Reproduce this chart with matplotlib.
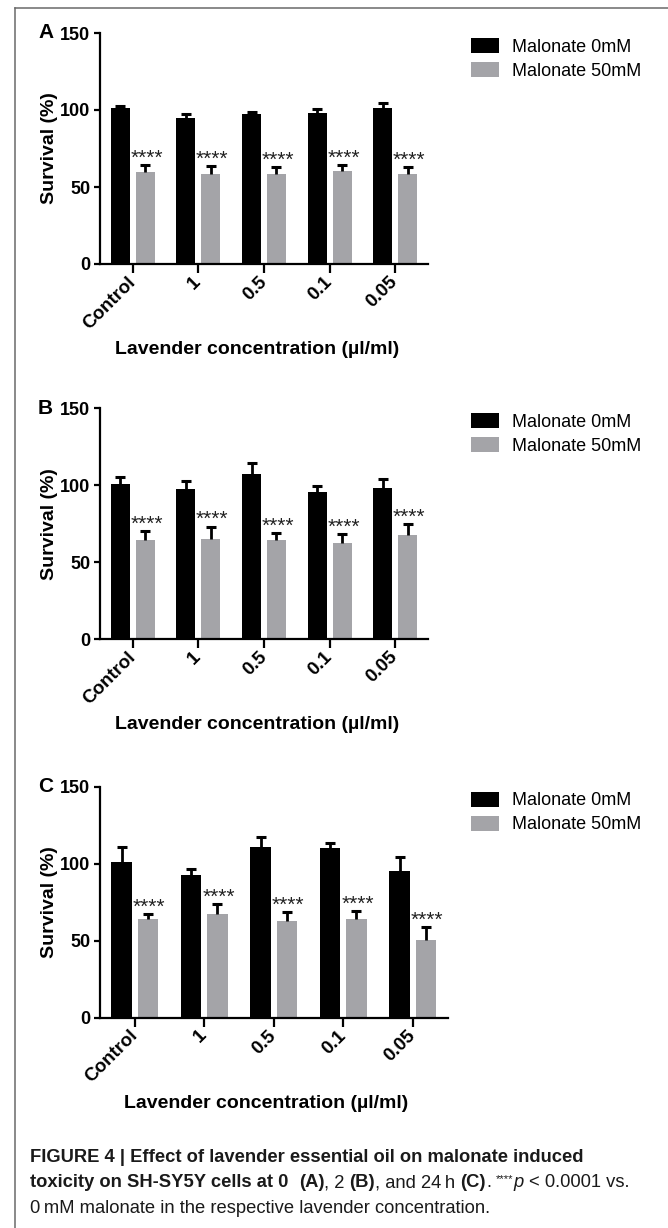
import matplotlib
matplotlib.use("Agg")
import matplotlib.pyplot as plt
import matplotlib.transforms as mtransforms
from matplotlib.lines import Line2D
import numpy as np

plt.rcParams['font.family'] = ['Liberation Sans', 'DejaVu Sans']

categories = ['Control', '1', '0.5', '0.1', '0.05']
series_labels = ['Malonate 0mM', 'Malonate 50mM']
panel_letters = ['A', 'B', 'C']
stars = '****'

# survival (%), mean and upper error, at 0 h (A), 2 h (B), 24 h (C)
a_ctrl = [101.0, 94.8, 97.4, 98.0, 101.2]
a_ctrl_err = [1.3, 2.8, 1.5, 2.8, 3.3]
a_malo = [59.5, 58.6, 58.2, 60.1, 58.6]
a_malo_err = [4.5, 4.8, 4.8, 3.9, 4.1]

b_ctrl = [100.6, 97.4, 107.4, 95.7, 98.4]
b_ctrl_err = [5.0, 5.6, 7.3, 3.5, 5.7]
b_malo = [64.4, 65.3, 64.2, 62.7, 67.7]
b_malo_err = [6.0, 7.8, 4.6, 5.4, 6.9]

c_ctrl = [100.8, 92.6, 111.0, 110.0, 95.4]
c_ctrl_err = [10.0, 4.0, 6.3, 3.5, 8.7]
c_malo = [64.2, 67.3, 63.1, 64.2, 50.6]
c_malo_err = [3.1, 6.7, 5.7, 5.2, 8.0]

W, H = 668, 1228
BLACK = '#000000'
GREY = '#a4a4a8'

fig = plt.figure(figsize=(W / 100, H / 100), dpi=100)

# panel boxes in pixels: left, top, right, bottom
boxes = [(100, 33, 428, 264), (100, 408.3, 428, 639), (100, 786.7, 447.5, 1017.7)]
panels = [(a_ctrl, a_ctrl_err, a_malo, a_malo_err),
          (b_ctrl, b_ctrl_err, b_malo, b_malo_err),
          (c_ctrl, c_ctrl_err, c_malo, c_malo_err)]


def draw_panel(box, letter, ctrl, ctrl_err, malo, malo_err):
    l, t, r, b = box
    ax = fig.add_axes([l / W, 1 - b / H, (r - l) / W, (b - t) / H])
    x = np.arange(len(categories))
    off, bw = 0.19, 0.29
    bars0 = ax.bar(x - off, ctrl, bw, color=BLACK, label=series_labels[0], zorder=2)
    bars1 = ax.bar(x + off, malo, bw, color=GREY, label=series_labels[1], zorder=2)
    for xs, vals, errs in [(x - off, ctrl, ctrl_err), (x + off, malo, malo_err)]:
        eb = ax.errorbar(xs, vals, yerr=[np.zeros(len(vals)), errs], fmt='none',
                         ecolor='black', elinewidth=2.0, capsize=3.3, capthick=2.2, zorder=3)
        eb[1][0].set_visible(False)  # only upper caps
    for xi, m, e in zip(x + off, malo, malo_err):
        ax.annotate(stars, xy=(xi, m + e), xytext=(1, 1), textcoords='offset points',
                    ha='center', va='baseline', fontsize=15, color='#222222')

    ax.set_xlim(-0.5, len(categories) - 0.5)
    ax.set_ylim(0, 150)
    ax.set_yticks([0, 50, 100, 150])
    ax.set_xticks(x, labels=categories)
    for s in ['top', 'right']:
        ax.spines[s].set_visible(False)
    for s in ['left', 'bottom']:
        ax.spines[s].set_linewidth(1.6)
    ax.tick_params(axis='y', length=4.5, width=1.6, pad=2.5, labelsize=13)
    ax.tick_params(axis='x', length=6.5, width=1.6, pad=4.5, labelsize=13.5)
    for lab in ax.get_yticklabels() + ax.get_xticklabels():
        lab.set_fontweight('bold')
    plt.setp(ax.get_xticklabels(), rotation=45, ha='right', va='center', rotation_mode='anchor')

    ax.set_ylabel('Survival (%)', fontsize=14, fontweight='bold')
    ax.yaxis.set_label_coords(58 / W, 0.5,
                              transform=mtransforms.blended_transform_factory(fig.transFigure, ax.transAxes))
    ax.set_xlabel('Lavender concentration (µl/ml)', fontsize=14, fontweight='bold')
    ax.xaxis.set_label_coords(0.478, -77 / (b - t))

    fig.text(38 / W, 1 - t / H, letter, fontsize=15, fontweight='bold', va='center', ha='left')

    ax.legend(handles=[bars0, bars1], loc='upper left',
              bbox_to_anchor=(471 / W, 1 - (t + 5) / H), bbox_transform=fig.transFigure,
              frameon=False, fontsize=13, handlelength=1.55, handleheight=0.89,
              handletextpad=0.7, labelspacing=0.35, borderpad=0, borderaxespad=0)
    return ax


for box, letter, data in zip(boxes, panel_letters, panels):
    draw_panel(box, letter, *data)

# frame around the figure (top and left edges visible)
fig.add_artist(Line2D([15 / W, 1], [1 - 8 / H, 1 - 8 / H], transform=fig.transFigure,
                      color='#6a6a6a', lw=1.1))
fig.add_artist(Line2D([15 / W, 15 / W], [1 - 8 / H, 0], transform=fig.transFigure,
                      color='#6a6a6a', lw=1.1))

# caption with mixed bold / regular runs
cap_font = ['Liberation Sans Narrow', 'Liberation Sans', 'DejaVu Sans']
renderer = fig.canvas.get_renderer()


def measure(s, **kw):
    t = fig.text(0, 0, s, **kw)
    w = t.get_window_extent(renderer).width
    t.remove()
    return w


line1 = 'FIGURE 4 | Effect of lavender essential oil on malonate induced'
size = 10 * 555 / measure(line1, fontsize=10, fontweight='bold', family=cap_font)


def text_runs(x_px, y_px, runs):
    x = x_px
    for s, weight, style, scale, dy in runs:
        kw = dict(fontsize=size * scale, fontweight=weight, fontstyle=style, family=cap_font)
        sp = measure('a a', **kw) - measure('aa', **kw)
        lead = len(s) - len(s.lstrip(' '))
        trail = len(s) - len(s.rstrip(' '))
        x += lead * sp
        core = s.strip(' ')
        if core:
            t = fig.text(x / W, 1 - (y_px - dy) / H, core, va='baseline', ha='left', color='#1a1a1a', **kw)
            x += t.get_window_extent(renderer).width
        x += trail * sp


text_runs(30, 1161.5, [(line1, 'bold', 'normal', 1, 0)])
text_runs(30, 1187, [
    ('toxicity on SH-SY5Y cells at 0  ', 'bold', 'normal', 1, 0),
    ('(A)', 'bold', 'normal', 1, 0),
    (', 2 ', 'normal', 'normal', 1, 0),
    ('(B)', 'bold', 'normal', 1, 0),
    (', and 24\u2009h ', 'normal', 'normal', 1, 0),
    ('(C)', 'bold', 'normal', 1, 0),
    ('. ', 'normal', 'normal', 1, 0),
    ('****', 'normal', 'normal', 0.62, 5),
    ('p', 'normal', 'italic', 1, 0),
    (' < 0.0001 vs.', 'normal', 'normal', 1, 0),
])
text_runs(30, 1213, [('0\u2009mM malonate in the respective lavender concentration.', 'normal', 'normal', 1, 0)])

fig.savefig('out.png', dpi=100)
